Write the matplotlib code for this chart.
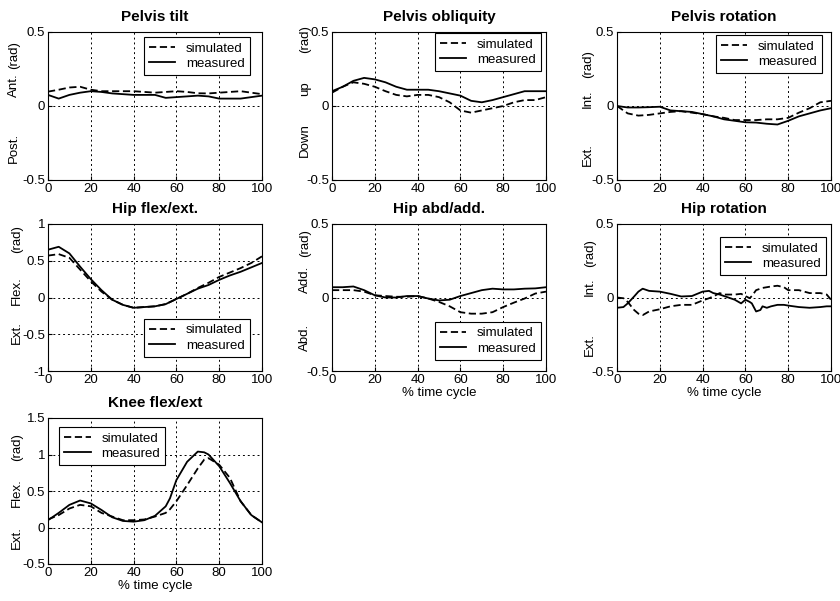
import matplotlib
matplotlib.use("Agg")
import matplotlib.pyplot as plt

plt.rcParams['font.family'] = ['Liberation Sans', 'DejaVu Sans']
plt.rcParams['font.size'] = 9.5

# ---- data (rad) ----
x5 = [0, 5, 10, 15, 20, 25, 30, 35, 40, 45, 50, 55, 60, 65, 70, 75, 80, 85, 90, 95, 100]

tilt_sim = [0.097, 0.11, 0.125, 0.13, 0.11, 0.10, 0.10, 0.10, 0.10, 0.095, 0.09, 0.095, 0.10, 0.095, 0.086, 0.085, 0.09, 0.095, 0.10, 0.09, 0.08]
tilt_meas = [0.075, 0.05, 0.075, 0.09, 0.10, 0.095, 0.085, 0.08, 0.075, 0.075, 0.075, 0.055, 0.06, 0.065, 0.07, 0.065, 0.05, 0.05, 0.05, 0.06, 0.07]

obl_sim = [0.09, 0.13, 0.16, 0.15, 0.13, 0.10, 0.075, 0.065, 0.075, 0.075, 0.06, 0.025, -0.03, -0.045, -0.03, -0.015, 0.0, 0.025, 0.04, 0.04, 0.06]
obl_meas = [0.10, 0.13, 0.17, 0.19, 0.18, 0.16, 0.13, 0.11, 0.11, 0.11, 0.10, 0.085, 0.07, 0.035, 0.025, 0.04, 0.06, 0.08, 0.10, 0.10, 0.10]

prot_sim = [0.0, -0.05, -0.065, -0.06, -0.05, -0.04, -0.035, -0.045, -0.055, -0.07, -0.08, -0.095, -0.095, -0.095, -0.09, -0.09, -0.08, -0.045, -0.015, 0.025, 0.035]
prot_meas = [0.0, -0.01, -0.01, -0.008, -0.005, -0.03, -0.035, -0.04, -0.055, -0.07, -0.09, -0.10, -0.11, -0.112, -0.12, -0.125, -0.10, -0.07, -0.05, -0.03, -0.015]

hflex_sim = [0.57, 0.59, 0.54, 0.38, 0.22, 0.08, -0.03, -0.10, -0.14, -0.13, -0.12, -0.09, -0.02, 0.05, 0.13, 0.20, 0.28, 0.34, 0.40, 0.47, 0.56]
hflex_meas = [0.65, 0.69, 0.60, 0.42, 0.25, 0.10, -0.03, -0.10, -0.14, -0.13, -0.12, -0.09, -0.02, 0.05, 0.12, 0.17, 0.24, 0.30, 0.35, 0.41, 0.47]

habd_sim = [0.05, 0.05, 0.05, 0.04, 0.015, 0.01, 0.005, 0.005, 0.01, -0.007, -0.03, -0.06, -0.10, -0.11, -0.11, -0.10, -0.065, -0.035, -0.007, 0.027, 0.04]
habd_meas = [0.07, 0.07, 0.075, 0.05, 0.015, 0.0, 0.0, 0.01, 0.01, -0.007, -0.02, -0.015, 0.01, 0.03, 0.05, 0.06, 0.055, 0.055, 0.06, 0.062, 0.07]

x_hrot = [0, 3, 5, 8, 10, 12, 15, 20, 25, 30, 35, 40, 43, 45, 48, 50, 55, 58, 60, 62, 63, 65, 67, 68, 70, 72, 75, 78, 80, 85, 90, 95, 98, 100]
hrot_sim = [0.0, -0.005, -0.03, -0.085, -0.11, -0.12, -0.095, -0.08, -0.06, -0.05, -0.05, -0.02, -0.005, 0.007, 0.03, 0.02, 0.02, 0.025, 0.01, -0.005, 0.01, 0.05, 0.06, 0.065, 0.07, 0.075, 0.08, 0.07, 0.05, 0.05, 0.03, 0.03, 0.02, -0.015]
hrot_meas = [-0.07, -0.065, -0.04, 0.007, 0.04, 0.06, 0.045, 0.04, 0.025, 0.007, 0.01, 0.04, 0.045, 0.03, 0.02, 0.01, -0.015, -0.04, -0.015, -0.03, -0.04, -0.095, -0.085, -0.06, -0.07, -0.06, -0.05, -0.05, -0.055, -0.065, -0.07, -0.065, -0.06, -0.06]

x_knee = [0, 5, 10, 15, 20, 25, 30, 35, 40, 45, 50, 55, 57, 60, 65, 70, 73, 75, 80, 85, 90, 95, 100]
knee_sim = [0.11, 0.17, 0.26, 0.31, 0.29, 0.20, 0.15, 0.10, 0.10, 0.11, 0.15, 0.20, 0.25, 0.36, 0.58, 0.81, 0.93, 0.95, 0.86, 0.68, 0.36, 0.17, 0.07]
knee_meas = [0.10, 0.20, 0.31, 0.37, 0.33, 0.24, 0.14, 0.09, 0.08, 0.10, 0.16, 0.29, 0.40, 0.65, 0.90, 1.04, 1.03, 1.00, 0.84, 0.61, 0.36, 0.17, 0.07]

# panel layout: (title, x, sim, meas, ylim, yticks, side labels, label offset, legend, xlabel)
panels = [
    ("Pelvis tilt", x5, tilt_sim, tilt_meas, (-0.5, 0.5), [-0.5, 0, 0.5],
     [("Post.", 0.22), ("Ant.", 0.64), ("(rad)", 0.845)], -34,
     ("upper right", (1 - 12 / 214, 1 - 5 / 148)), False),
    ("Pelvis obliquity", x5, obl_sim, obl_meas, (-0.5, 0.5), [-0.5, 0, 0.5],
     [("Down", 0.27), ("up", 0.62), ("(rad)", 0.95)], -27,
     ("upper right", (1 - 5 / 214, 1 - 1 / 148)), False),
    ("Pelvis rotation", x5, prot_sim, prot_meas, (-0.5, 0.5), [-0.5, 0, 0.5],
     [("Ext.", 0.17), ("Int.", 0.55), ("(rad)", 0.78)], -29,
     ("upper right", (1 - 9 / 214, 1 - 3 / 148)), False),
    ("Hip flex/ext.", x5, hflex_sim, hflex_meas, (-1, 1), [-1, -0.5, 0, 0.5, 1],
     [("Ext.", 0.26), ("Flex.", 0.55), ("(rad)", 0.90)], -31,
     ("lower right", (1 - 12 / 214, 14 / 147)), False),
    ("Hip abd/add.", x5, habd_sim, habd_meas, (-0.5, 0.5), [-0.5, 0, 0.5],
     [("Abd.", 0.23), ("Add.", 0.62), ("(rad)", 0.87)], -27,
     ("lower right", (1 - 5 / 214, 11 / 147)), True),
    ("Hip rotation", x_hrot, hrot_sim, hrot_meas, (-0.5, 0.5), [-0.5, 0, 0.5],
     [("Ext.", 0.18), ("Int.", 0.57), ("(rad)", 0.80)], -27,
     ("upper right", (1 - 5 / 214, 1 - 13 / 147)), True),
    ("Knee flex/ext", x_knee, knee_sim, knee_meas, (-0.5, 1.5), [-0.5, 0, 0.5, 1, 1.5],
     [("Ext.", 0.18), ("Flex.", 0.49), ("(rad)", 0.80)], -31,
     ("upper left", (11 / 214, 1 - 9 / 146)), True),
]

lefts = [48 / 840, 332 / 840, 617 / 840]
rows = [(32, 180), (224, 371), (418, 564)]

fig = plt.figure(figsize=(8.4, 6.01), dpi=100)

for i, (title, xs, sim, meas, ylim, yt, side, lx, leg, xlab) in enumerate(panels):
    r, c = divmod(i, 3)
    top, bot = rows[r]
    ax = fig.add_axes([lefts[c], 1 - bot / 601, 214 / 840, (bot - top) / 601])
    ax.plot(xs, sim, color='black', linestyle=(0, (4, 2)), linewidth=1.3, label='simulated')
    ax.plot(xs, meas, color='black', linestyle='-', linewidth=1.3, label='measured')
    ax.set_xlim(0, 100)
    ax.set_ylim(*ylim)
    ax.set_xticks([0, 20, 40, 60, 80, 100])
    ax.set_yticks(yt)
    ax.set_yticklabels([f"{v:g}" for v in yt])
    ax.grid(True, color='black', linestyle=(0, (2, 3)), linewidth=0.7)
    ax.tick_params(direction='in', length=3, labelsize=9.5, pad=2)
    for sp in ax.spines.values():
        sp.set_linewidth(0.8)
    ax.set_title(title, fontsize=11, fontweight='bold', pad=8)
    for txt, yf in side:
        ax.annotate(txt, xy=(0, yf), xycoords='axes fraction', xytext=(lx, 0),
                    textcoords='offset pixels', rotation=90, ha='center', va='center',
                    fontsize=9.5)
    loc, anchor = leg
    lg = ax.legend(loc=loc, bbox_to_anchor=anchor, borderaxespad=0, fancybox=False,
                   framealpha=1, edgecolor='black', fontsize=9.5, handlelength=2.0,
                   borderpad=0.4, labelspacing=0.25, handletextpad=0.8)
    lg.get_frame().set_linewidth(0.8)
    if xlab:
        ax.set_xlabel("% time cycle", fontsize=9.5, labelpad=1)

fig.savefig("out.png", dpi=100)
